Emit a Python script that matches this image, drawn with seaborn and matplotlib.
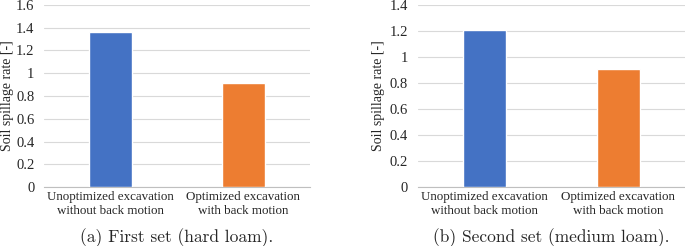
import matplotlib
matplotlib.use("Agg")
import matplotlib.pyplot as plt
import seaborn as sns
import numpy as np

categories = ["Unoptimized excavation\nwithout back motion", "Optimized excavation\nwith back motion"]
hard_loam = [1.36, 0.91]
medium_loam = [1.21, 0.905]
bar_colors = ["#4472C4", "#ED7D31"]

sns.set_style("white")
plt.rcParams["font.family"] = "serif"
plt.rcParams["font.serif"] = ["Liberation Serif", "DejaVu Serif"]

fig = plt.figure(figsize=(6.85, 2.46), dpi=100)
ax1 = fig.add_axes([0.0642, 0.2398, 0.388, 0.7399])
ax2 = fig.add_axes([0.610, 0.2398, 0.390, 0.7399])


def tick_fmt(v):
    s = f"{v:.1f}"
    return s[:-2] if s.endswith(".0") else s


for ax, vals, ymax, cap, lx in [
    (ax1, hard_loam, 1.6, "(a) First set (hard loam).", -0.112),
    (ax2, medium_loam, 1.4, "(b) Second set (medium loam).", -0.124),
]:
    sns.barplot(x=categories, y=vals, hue=categories, palette=bar_colors,
                legend=False, width=0.32, ax=ax, saturation=1, zorder=3)
    ax.set_xlim(-0.5, 1.5)
    ax.set_ylim(0, ymax)
    ticks = np.round(np.arange(0, ymax + 0.01, 0.2), 1)
    ax.set_yticks(ticks)
    ax.set_yticklabels([tick_fmt(t) for t in ticks], fontsize=10.5)
    ax.tick_params(axis="x", labelsize=9.4, length=0, pad=3)
    ax.tick_params(axis="y", length=0, pad=7)
    ax.yaxis.grid(True, color="#D9D9D9", linewidth=0.8, zorder=0)
    for s in ["top", "right", "left"]:
        ax.spines[s].set_visible(False)
    ax.spines["bottom"].set_color("#BFBFBF")
    ax.spines["bottom"].set_linewidth(0.8)
    ax.set_ylabel("Soil spillage rate [-]", fontsize=10)
    ax.yaxis.set_label_coords(lx, 0.5)
    ax.set_xlabel("")
    ax.text(0.5, -0.28, cap, transform=ax.transAxes, ha="center", va="center",
            fontsize=12.5, family="cmr10")

fig.savefig("out.png", dpi=100)
